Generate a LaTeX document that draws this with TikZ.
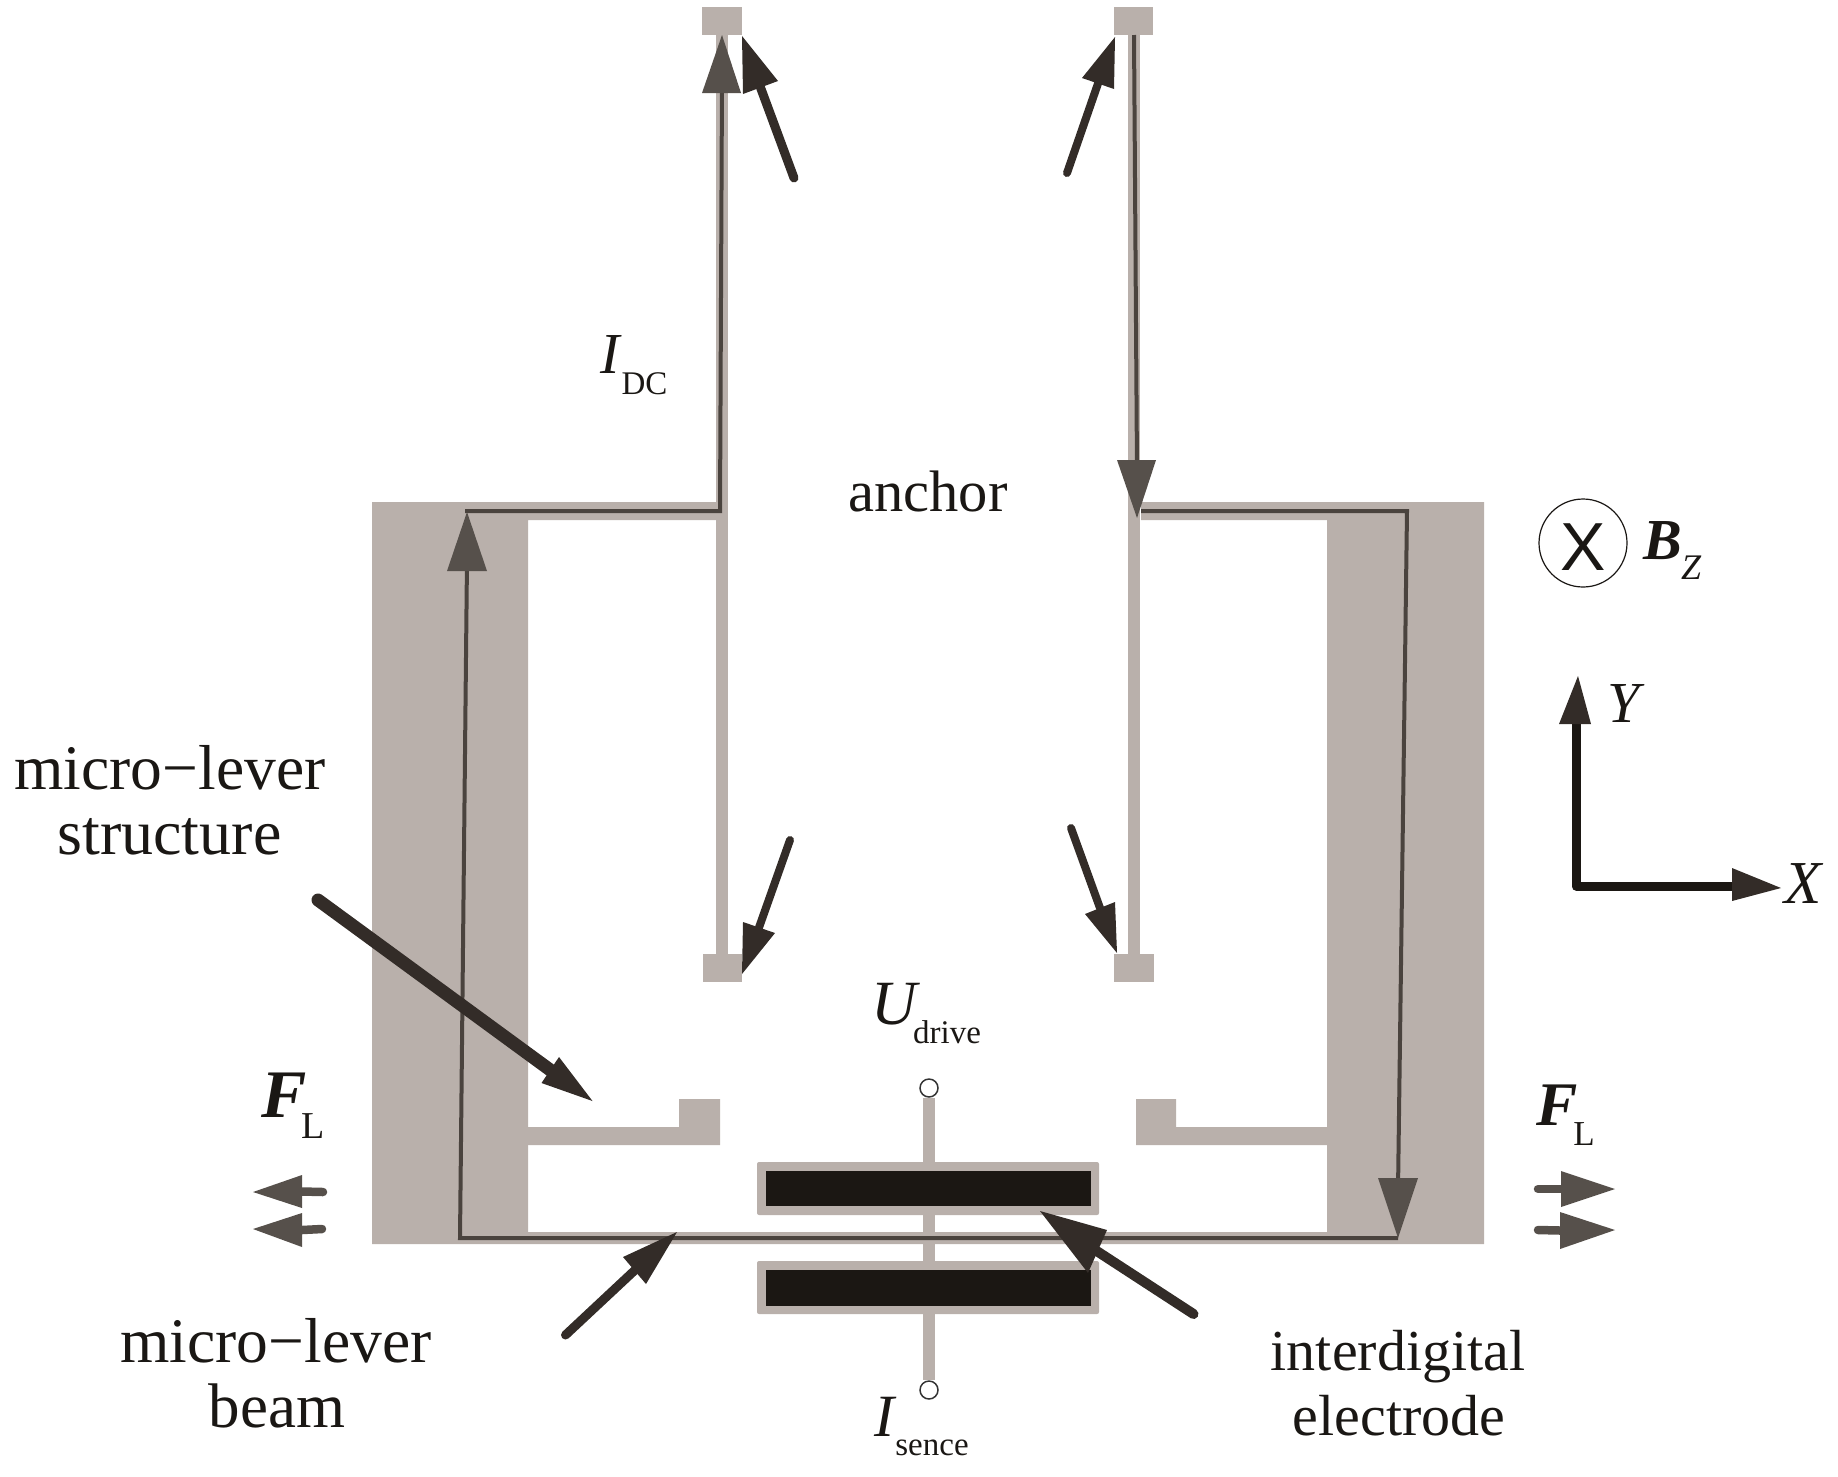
\documentclass[tikz,border=0pt]{standalone}
\usepackage{fontspec}
\setmainfont{Liberation Serif}
\newfontfamily\xfont{Liberation Sans}
\usetikzlibrary{calc}
\definecolor{greyc}{HTML}{B9B0AB}
\definecolor{pathc}{HTML}{4A433E}
\definecolor{headc}{HTML}{56504B}
\definecolor{ptrc}{HTML}{332C28}
\definecolor{blackc}{HTML}{1B1713}
\definecolor{inkc}{HTML}{1A1714}
\newcommand{\fs}[1]{\fontsize{#1}{#1}\selectfont}
\tikzset{
  greypart/.style={fill=greyc,draw=none},
  blackpart/.style={fill=blackc,draw=none},
  lab/.style={inner sep=0pt,outer sep=0pt,anchor=base,text=inkc},
  term/.style={circle,draw=black!80,line width=1.5pt,fill=white,minimum size=18pt,inner sep=0pt},
  wire/.style={draw=greyc,line width=12pt},
  cur/.style={draw=pathc,line width=4pt,line join=miter},
  curhead/.style={fill=headc,draw=none},
  ptrhead/.style={fill=ptrc,draw=none},
}
% tail, tip, corner, corner, width, colour
\newcommand{\ptr}[6]{%
  \draw[draw=#6,line width=#5pt,line cap=round] #1 -- ($#3!.5!#4$);
  \fill[fill=#6] #2 -- #3 -- #4 -- cycle;}
\begin{document}
\begin{tikzpicture}[x=1pt,y=-1pt]
\useasboundingbox (0,0) rectangle (1838,1476);
% lever frame
\fill[greypart] (372,502) -- (716,502) -- (716,520) -- (528,520) -- (528,1232) -- (1327,1232)
  -- (1327,520) -- (1141,520) -- (1141,502) -- (1484,502) -- (1484,1244) -- (372,1244) -- cycle;
% stems and pads
\fill[greypart] (716,30) rectangle (728,960);
\fill[greypart] (1128,30) rectangle (1140,960);
\fill[greypart] (702,7) rectangle (742,35);
\fill[greypart] (1114,7) rectangle (1153,35);
\fill[greypart] (703,954) rectangle (742,982);
\fill[greypart] (1114,954) rectangle (1154,982);
% L brackets
\fill[greypart] (528,1127) -- (679,1127) -- (679,1099) -- (720,1099) -- (720,1145) -- (528,1145) -- cycle;
\fill[greypart] (1327,1127) -- (1176,1127) -- (1176,1099) -- (1136,1099) -- (1136,1145) -- (1327,1145) -- cycle;
% terminals and centre line
\node[term] (utop) at (929,1088) {};
\node[term] (ubot) at (929,1390) {};
\draw[wire] (utop) -- (ubot);
% electrodes
\fill[greypart,rounded corners=2pt] (757,1162) rectangle (1099,1215);
\fill[greypart,rounded corners=2pt] (757,1261) rectangle (1099,1314);
\fill[blackpart] (765.5,1171) rectangle (1090.5,1206);
\fill[blackpart] (765.5,1270) rectangle (1090.5,1306);
% current path
\draw[cur] (1398,1238) -- (460,1238) -- (467,560);
\fill[curhead] (467,512) -- (447,571) -- (487,571) -- cycle;
\draw[cur] (465,511) -- (720,511) -- (722,80);
\fill[curhead] (722,35) -- (702,93) -- (741,93) -- cycle;
\draw[cur] (1134,35) -- (1137,470);
\fill[curhead] (1137,518) -- (1117,460) -- (1156,460) -- cycle;
\draw[cur] (1141,511) -- (1407,511) -- (1398,1190);
\fill[curhead] (1398,1238) -- (1378,1178) -- (1418,1178) -- cycle;
% pointer arrows
\ptr{(794,178)}{(742,36)}{(743,94)}{(778,81)}{9}{ptrc}
\ptr{(1067,173)}{(1115,37)}{(1082,78)}{(1114,89)}{8}{ptrc}
\ptr{(790,840)}{(742,974)}{(743,922)}{(775,933)}{8}{ptrc}
\ptr{(1071,828)}{(1117,953)}{(1085,914)}{(1115,902)}{8}{ptrc}
\ptr{(318,900)}{(592.5,1101)}{(559,1057)}{(541.5,1083)}{13}{ptrc}
\ptr{(565.5,1335)}{(677,1232)}{(623,1257)}{(646,1284)}{9}{ptrc}
\ptr{(1193.5,1314)}{(1040,1211)}{(1107,1230)}{(1088,1273)}{10}{ptrc}
% force arrows
\ptr{(323,1192)}{(253,1192)}{(302,1175)}{(302,1208)}{8.5}{headc}
\ptr{(322,1229)}{(253,1229)}{(302,1213)}{(302,1247)}{8.5}{headc}
\ptr{(1538,1189)}{(1615,1189)}{(1561,1171)}{(1561,1207)}{8.5}{headc}
\ptr{(1538,1230)}{(1615,1230)}{(1560,1212)}{(1560,1249)}{8.5}{headc}
% axes
\coordinate (orig) at (1576,886);
\draw[draw=blackc,line width=9pt,line cap=round,line join=round] (1576,724) -- (orig) -- (1735,886);
\fill[ptrhead] (1578,676) -- (1559,724) -- (1591,724) -- cycle;
\fill[ptrhead] (1781,888) -- (1732,868) -- (1732,901) -- cycle;
% magnetic field symbol
\node[circle,draw=inkc,line width=1.2pt,minimum size=88pt,inner sep=0pt] (bz) at (1583,543) {};
\node[lab,text=inkc] (bzx) at (1583,570) {\xfont\fs{68}X};
% labels
\node[lab] (anch) at (928,511) {\fs{58.5}anchor};
\node[lab] (ms1) at (170,789) {\fs{63.5}micro−lever};
\node[lab] (ms2) at (169.5,854) {\fs{64}structure};
\node[lab] (mb1) at (276,1362) {\fs{63.5}micro−lever};
\node[lab] (mb2) at (277,1427) {\fs{63}beam};
\node[lab] (ie1) at (1398,1370) {\fs{58}interdigital};
\node[lab] (ie2) at (1399,1435) {\fs{58}electrode};
\node[lab] (fl) at (284,1117) {\fs{68}\bfseries\itshape F};
\node[lab] (fls) at (313,1138) {\fs{38}L};
\node[lab] (fr) at (1557,1125) {\fs{62}\bfseries\itshape F};
\node[lab] (frs) at (1584,1145) {\fs{35}L};
\node[lab] (isn) at (884,1436) {\fs{60}\itshape I};
\node[lab] (isns) at (932,1455) {\fs{33}sence};
\node[lab] (ud) at (894,1024) {\fs{63}\itshape U};
\node[lab] (uds) at (947,1043) {\fs{33}drive};
\node[lab] (idc) at (610,373) {\fs{58}\itshape I};
\node[lab] (idcs) at (644.5,394) {\fs{33}DC};
\node[lab] (bb) at (1663,559) {\fs{58}\bfseries\itshape B};
\node[lab] (bbs) at (1691,579) {\fs{36}\itshape Z};
\node[lab] (ay) at (1624,722) {\fs{58}\itshape Y};
\node[lab] (ax) at (1803,903) {\fs{61}\itshape X};
\end{tikzpicture}
\end{document}
